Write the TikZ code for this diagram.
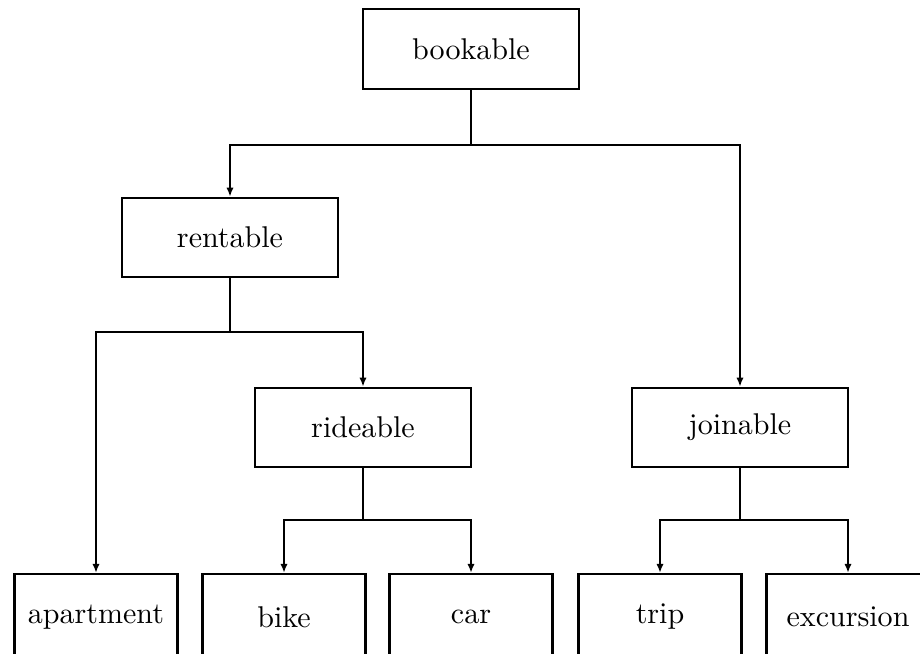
\documentclass[tikz,border=0pt]{standalone}
\usepackage{amsmath}
\usepackage{tikz}
\usetikzlibrary{arrows.meta}
\tikzset{
  box/.style={draw, line width=0.75pt, minimum width=72pt, minimum height=26.4pt, inner sep=0pt},
  leaf/.style={box, minimum width=54.3pt, minimum height=28.6pt},
  link/.style={line width=0.75pt},
  arrowlink/.style={link, -{Latex[length=3pt,width=2.4pt]}}
}
\begin{document}
\begin{tikzpicture}[x=0.333pt, y=-0.333pt]
            \useasboundingbox (0,0) rectangle (920,654);
            % classes
            \node[box] (bookable) at (471,49) {bookable};
            \node[box] (rentable) at (230,237.5) {rentable};
            \node[box] (rideable) at (363,427.5) {rideable};
            \node[box] (joinable) at (740,427.5) {joinable};
            % leaves
            \node[leaf] (apartment) at (96,617) {apartment};
            \node[leaf] (bike) at (284,617) {bike};
            \node[leaf] (car) at (471,617) {car};
            \node[leaf] (trip) at (660,617) {trip};
            \node[leaf] (excursion) at (848,617) {excursion};
            % joints
            \coordinate (bookjoint) at (471,145);
            \coordinate (rentjoint) at (230,332);
            \coordinate (ridejoint) at (363,520);
            \coordinate (joinjoint) at (740,520);
            % links
            \draw[link] (bookable.south) -- (bookjoint);
            \draw[arrowlink] (bookjoint) -| (rentable.north);
            \draw[arrowlink] (bookjoint) -| (joinable.north);
            \draw[link] (rentable.south) -- (rentjoint);
            \draw[arrowlink] (rentjoint) -| (apartment.north);
            \draw[arrowlink] (rentjoint) -| (rideable.north);
            \draw[link] (rideable.south) -- (ridejoint);
            \draw[arrowlink] (ridejoint) -| (bike.north);
            \draw[arrowlink] (ridejoint) -| (car.north);
            \draw[link] (joinable.south) -- (joinjoint);
            \draw[arrowlink] (joinjoint) -| (trip.north);
            \draw[arrowlink] (joinjoint) -| (excursion.north);
        \end{tikzpicture}
\end{document}
